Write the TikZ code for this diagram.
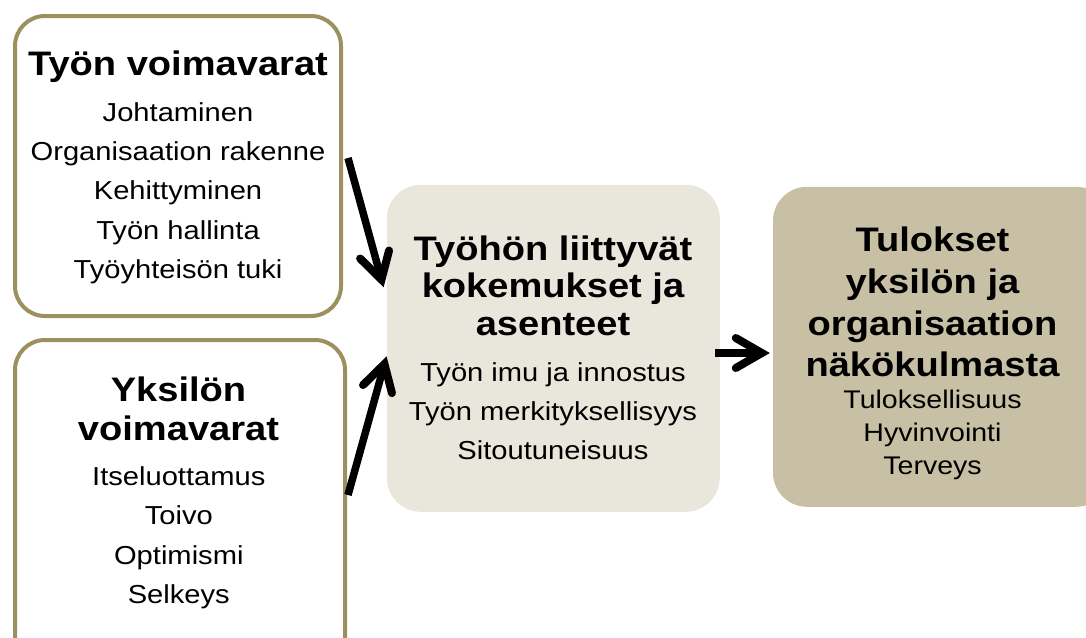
\documentclass[tikz,border=0pt]{standalone}
\usepackage{fontspec}
\setmainfont{Liberation Sans}[FakeStretch=1.12]
\usetikzlibrary{arrows.meta}
\definecolor{rimcol}{HTML}{9C905F}
\definecolor{midfill}{HTML}{E9E6DC}
\definecolor{outfill}{HTML}{C8C0A5}
\tikzset{
  resbox/.style={draw=rimcol, line width=4pt, fill=white, rounded corners=30pt},
  midbox/.style={fill=midfill, draw=none, rounded corners=34pt},
  outbox/.style={fill=outfill, draw=none, rounded corners=34pt},
  ttl/.style={font=\fontsize{34}{40}\selectfont\bfseries, anchor=base, inner sep=0pt},
  itm/.style={font=\fontsize{26}{30}\selectfont, anchor=base, inner sep=0pt},
  itms/.style={font=\fontsize{25.5}{30}\selectfont, anchor=base, inner sep=0pt},
  arr/.style={line width=7.5pt, -{Straight Barb[length=26pt, width=30pt, line width=8pt, line cap=round]}}
}
\begin{document}
\begin{tikzpicture}[x=1pt, y=-1pt]
\useasboundingbox (0,0) rectangle (1086,637);
\clip (0,0) rectangle (1086,637);

% boxes
\node[resbox, minimum width=326pt, minimum height=300pt] (b1) at (178,166) {};
\node[resbox, minimum width=330pt, minimum height=340pt] (b2) at (180,510) {};
\node[midbox, minimum width=333pt, minimum height=327pt] (b3) at (553.3,348.3) {};
\node[outbox, minimum width=337pt, minimum height=320pt] (b4) at (941.5,346.8) {};

% work resources
\node[ttl] (t1) at (178,75) {Työn voimavarat};
\foreach \t [count=\i] in {Johtaminen, Organisaation rakenne, Kehittyminen, Työn hallinta, Työyhteisön tuki}
  \node[itm] (p\i) at (178,{82.3+39.2*\i}) {\t};

% personal resources
\node[ttl] (t2a) at (178.5,401.7) {Yksilön};
\node[ttl] (t2b) at (178.5,440) {voimavarat};
\foreach \t [count=\i] in {Itseluottamus, Toivo, Optimismi, Selkeys}
  \node[itm] (q\i) at (178.8,{445.5+39.5*\i}) {\t};

% experiences and attitudes
\foreach \t [count=\i] in {Työhön liittyvät, kokemukset ja, asenteet}
  \node[ttl] (m\i) at (553,{222.5+37.5*\i}) {\t};
\foreach \t [count=\i] in {Työn imu ja innostus, Työn merkityksellisyys, Sitoutuneisuus}
  \node[itm] (n\i) at (553,{342.5+39*\i}) {\t};

% outcomes
\foreach \t [count=\i] in {Tulokset, yksilön ja, organisaation, näkökulmasta}
  \node[ttl] (r\i) at (932.5,{210+41.7*\i}) {\t};
\foreach \t [count=\i] in {Tuloksellisuus, Hyvinvointi, Terveys}
  \node[itms] (s\i) at (932.5,{375.5+33*\i}) {\t};

% connectors
\draw[arr] ([xshift=5pt,yshift=8pt]b1.east) -- ([xshift=-3pt,yshift=61pt]b3.west);
\draw[arr] ([xshift=1pt,yshift=15pt]b2.east) -- ([yshift=-8pt]b3.west);
\coordinate (a3) at ([xshift=-5pt,yshift=-4.7pt]b3.east);
\draw[arr, shorten >=3pt] (a3) -- (a3 -| b4.west);
\end{tikzpicture}
\end{document}
